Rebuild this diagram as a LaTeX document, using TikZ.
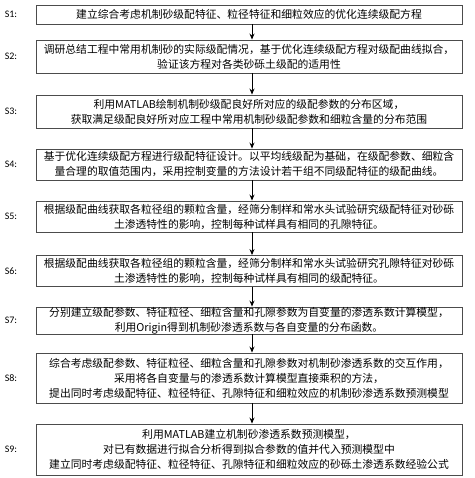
\documentclass[tikz,border=0pt]{standalone}
\usepackage{fontspec}
\setmainfont{Liberation Serif}
\newfontfamily\cjk{Noto Sans CJK SC}
\newfontfamily\lblfont{Carlito}
\usetikzlibrary{arrows.meta}

\begin{document}
\begin{tikzpicture}[x=1pt, y=-1pt,
    stepbox/.style={draw=black!70, line width=0.9pt, minimum width=426pt,
        text width=424pt, align=center, inner sep=0pt,
        font=\cjk\fontsize{10.8}{15}\selectfont},
    steplabel/.style={font=\lblfont\fontsize{10}{12}\selectfont},
    flow/.style={-{Stealth[length=6pt, width=5pt]}, line width=0.8pt}]
    \useasboundingbox (0,0) rectangle (474,478);

    % Schritte
    \node[stepbox, minimum height=19pt] (s1) at (249,14.5)
        {建立综合考虑机制砂级配特征、粒径特征和细粒效应的优化连续级配方程};
    \node[stepbox, minimum height=33pt] (s2) at (249,56.5)
        {调研总结工程中常用机制砂的实际级配情况，基于优化连续级配方程对级配曲线拟合，\\
         验证该方程对各类砂砾土级配的适用性};
    \node[stepbox, minimum height=33pt] (s3) at (249,111.5)
        {利用MATLAB绘制机制砂级配良好所对应的级配参数的分布区域，\\
         获取满足级配良好所对应工程中常用机制砂级配参数和细粒含量的分布范围};
    \node[stepbox, minimum height=31pt] (s4) at (249,164.5)
        {基于优化连续级配方程进行级配特征设计。以平均线级配为基础，在级配参数、细粒含\\
         量合理的取值范围内，采用控制变量的方法设计若干组不同级配特征的级配曲线。};
    \node[stepbox, minimum height=31pt] (s5) at (249,216.5)
        {根据级配曲线获取各粒径组的颗粒含量，经筛分制样和常水头试验研究级配特征对砂砾\\
         土渗透特性的影响，控制每种试样具有相同的孔隙特征。};
    \node[stepbox, minimum height=31pt] (s6) at (249,271)
        {根据级配曲线获取各粒径组的颗粒含量，经筛分制样和常水头试验研究孔隙特征对砂砾\\
         土渗透特性的影响，控制每种试样具有相同的级配特征。};
    \node[stepbox, minimum height=27pt] (s7) at (249,320.5)
        {分别建立级配参数、特征粒径、细粒含量和孔隙参数为自变量的渗透系数计算模型，\\
         利用Origin得到机制砂渗透系数与各自变量的分布函数。};
    \node[stepbox, minimum height=50pt] (s8) at (249,378)
        {综合考虑级配参数、特征粒径、细粒含量和孔隙参数对机制砂渗透系数的交互作用，\\
         采用将各自变量与的渗透系数计算模型直接乘积的方法，\\
         提出同时考虑级配特征、粒径特征、孔隙特征和细粒效应的机制砂渗透系数预测模型};
    \node[stepbox, minimum height=51pt] (s9) at (249,449.5)
        {利用MATLAB建立机制砂渗透系数预测模型，\\
         对已有数据进行拟合分析得到拟合参数的值并代入预测模型中\\
         建立同时考虑级配特征、粒径特征、孔隙特征和细粒效应的砂砾土渗透系数经验公式};

    % Beschriftungen
    \foreach \i in {1,...,9}
        \node[steplabel] (l\i) at (s\i.west -| 11,0) {S\i:};

    % Pfeile
    \foreach \a/\b in {s1/s2, s2/s3, s3/s4, s4/s5, s5/s6, s6/s7, s7/s8, s8/s9}
        \draw[flow] ([xshift=3pt]\a.south) -- ([xshift=3pt]\b.north);
\end{tikzpicture}
\end{document}
